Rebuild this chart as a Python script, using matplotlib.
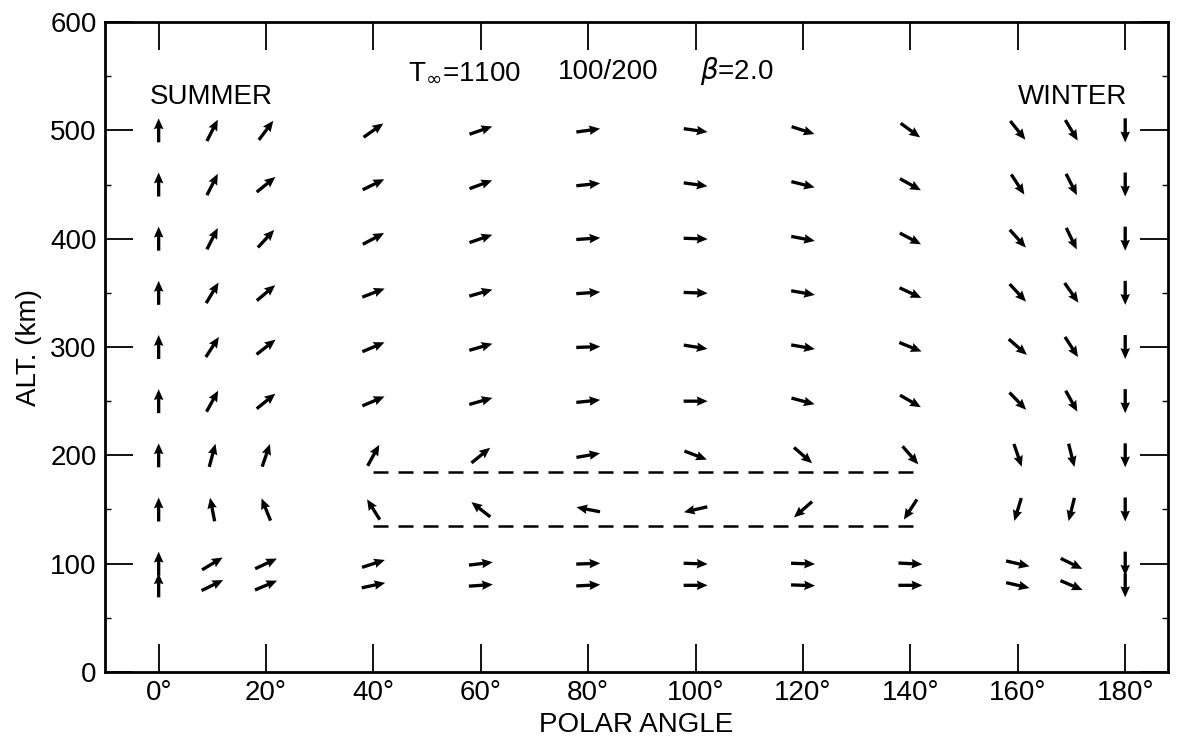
import numpy as np
import matplotlib.pyplot as plt
from matplotlib.ticker import MultipleLocator

plt.rcParams['font.family'] = ['Liberation Sans', 'DejaVu Sans']

# polar angles (deg) of the arrow columns and altitudes (km) of the rows
polar = [0, 10, 20, 40, 60, 80, 100, 120, 140, 160, 170, 180]
alts = [500, 450, 400, 350, 300, 250, 200, 150, 100, 80]

# direction of each arrow on the page (deg, counter-clockwise from +x),
# one list per column, ordered like alts
dir_0 = [90, 90, 90, 90, 90, 90, 90, 90, 90, 90]
dir_10 = [63, 63, 63, 59, 57, 61, 75, 101, 31, 26]
dir_20 = [53, 39, 47, 40, 38, 39, 71, 112, 25, 23]
dir_40 = [35, 26, 28, 21, 23, 23, 61, 122, 18, 12]
dir_60 = [19, 20, 19, 16, 16, 16, 39, 142, 7, 4]
dir_80 = [8, 6, 4, 4, 2, 6, 10, 169, 2, 3]
dir_100 = [-8, -8, -2, -2, -9, 0, -21, 193, -2, 0]
dir_120 = [-18, -14, -11, -10, -10, -15, -41, 221, -2, -2]
dir_140 = [-36, -29, -28, -25, -22, -30, -49, 237, -3, 0]
dir_160 = [-51, -57, -48, -47, -41, -46, -71, 253, -13, -13]
dir_170 = [-59, -63, -64, -55, -57, -61, -76, 256, -26, -23]
dir_180 = [-90, -90, -90, -90, -90, -90, -90, -90, -90, -90]
dirs = [dir_0, dir_10, dir_20, dir_40, dir_60, dir_80, dir_100,
        dir_120, dir_140, dir_160, dir_170, dir_180]

# layer boundaries (km) and their extent in polar angle
layer_alts = [185, 135]
layer_span = [40, 141]

fig = plt.figure(figsize=(11.82, 7.44), dpi=100)
ax = fig.add_axes([0.0888, 0.0968, 0.8995, 0.8736])

X, Y = np.meshgrid(polar, alts, indexing='ij')
ang = np.deg2rad(np.array(dirs, dtype=float))
L = 24.0  # arrow length in pixels
ax.quiver(X, Y, L * np.cos(ang), L * np.sin(ang),
          angles='uv', pivot='middle', scale_units='dots', scale=1,
          units='dots', width=3.3, headwidth=2.9, headlength=3.3,
          headaxislength=3.0, color='black')

for a in layer_alts:
    ax.plot(layer_span, [a, a], color='black', lw=1.8, dashes=(6, 4))

ax.text(-1.7, 524, 'SUMMER', fontsize=20, va='baseline', ha='left')
ax.text(160, 524, 'WINTER', fontsize=20, va='baseline', ha='left')
ax.text(46.4, 547, r'T$_{\infty}$=1100', fontsize=20, va='baseline', ha='left')
ax.text(74.3, 547, '100/200', fontsize=20, va='baseline', ha='left')
ax.text(100.8, 547, r'$\beta$=2.0', fontsize=20, va='baseline', ha='left')

ax.set_xlim(-10, 188)
ax.set_ylim(0, 600)
ax.set_xticks(range(0, 181, 20))
ax.set_xticklabels([f'{v}°' for v in range(0, 181, 20)])
ax.set_yticks(range(0, 601, 100))
ax.yaxis.set_minor_locator(MultipleLocator(50))
ax.tick_params(which='major', direction='in', length=20, width=1.3,
               top=True, right=True, labelsize=20, pad=6)
ax.tick_params(which='minor', direction='in', length=4, width=1,
               left=True, right=True)
for s in ax.spines.values():
    s.set_linewidth(2.0)

ax.set_xlabel('POLAR ANGLE', fontsize=20, labelpad=4)
ax.set_ylabel('ALT. (km)', fontsize=20, labelpad=6)

fig.savefig('out.png', dpi=100)
